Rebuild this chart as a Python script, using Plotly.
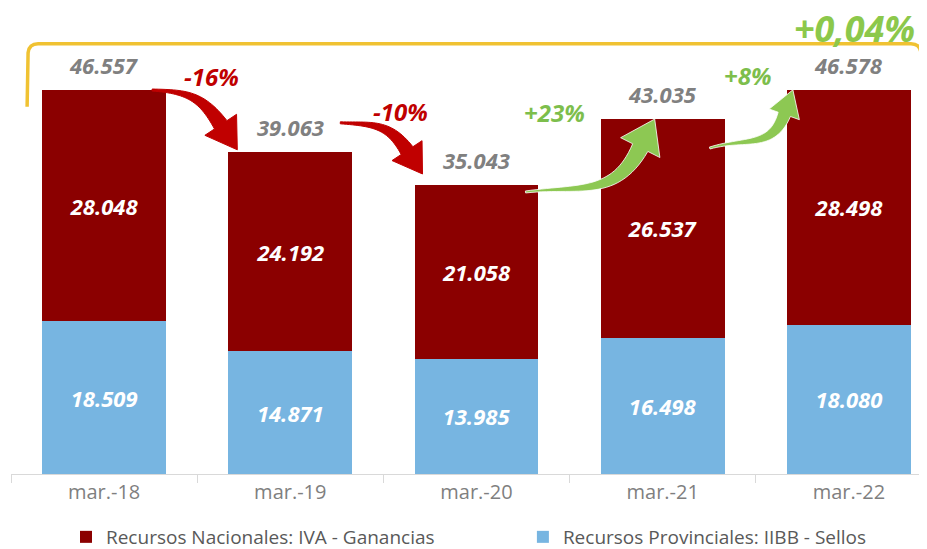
import math
import plotly.graph_objects as go

# ---------------------------------------------------------
# data
# ---------------------------------------------------------
periods = ["mar.-18", "mar.-19", "mar.-20", "mar.-21", "mar.-22"]
nacionales = [28048, 24192, 21058, 26537, 28498]
provinciales = [18509, 14871, 13985, 16498, 18080]
totals = [46557, 39063, 35043, 43035, 46578]
variations = ["-16%", "-10%", "+23%", "+8%"]
total_variation = "+0,04%"

# ---------------------------------------------------------
# geometry helpers (data <-> pixel)
# ---------------------------------------------------------
W, H = 927, 549
ML, MR, MT, MB = 3, 0, 0, 83
PW, PH = W - ML - MR, H - MT - MB
SX = 186.2                 # px per category
SY = 384 / 46557           # px per unit
X0, X1 = -0.5, -0.5 + PW / SX
YMAX = PH / SY

RED = "#8B0000"
BLUE = "#77B5E1"
ARROW_RED = "#C00000"
GREEN = "#8DC853"
GREY = "#808080"


def to_px(xd, yd):
    return ((xd - X0) * SX, (YMAX - yd) * SY)


def to_data(px, py):
    return (px / SX + X0, YMAX - py / SY)


def anchor(i, dx, dy):
    # pixel offset from the top-centre of bar i
    px, py = to_px(i, totals[i])
    return (px + dx, py + dy)


def unit(v):
    n = math.hypot(v[0], v[1])
    return (v[0] / n, v[1] / n)


def curved_arrow(tail, tip, d0, d1, hl, hw, w0, w1):
    d0, d1 = unit(d0), unit(d1)
    bx, by = tip[0] - hl * d1[0], tip[1] - hl * d1[1]
    L = math.hypot(bx - tail[0], by - tail[1])
    c1 = (tail[0] + 0.45 * L * d0[0], tail[1] + 0.45 * L * d0[1])
    c2 = (bx - 0.45 * L * d1[0], by - 0.45 * L * d1[1])
    p = [tail, c1, c2, (bx, by)]
    left, right = [], []
    n = 30
    for k in range(n + 1):
        t = k / n
        mt = 1 - t
        x = mt**3 * p[0][0] + 3 * mt**2 * t * p[1][0] + 3 * mt * t**2 * p[2][0] + t**3 * p[3][0]
        y = mt**3 * p[0][1] + 3 * mt**2 * t * p[1][1] + 3 * mt * t**2 * p[2][1] + t**3 * p[3][1]
        tx = 3 * mt**2 * (p[1][0] - p[0][0]) + 6 * mt * t * (p[2][0] - p[1][0]) + 3 * t**2 * (p[3][0] - p[2][0])
        ty = 3 * mt**2 * (p[1][1] - p[0][1]) + 6 * mt * t * (p[2][1] - p[1][1]) + 3 * t**2 * (p[3][1] - p[2][1])
        ux, uy = unit((tx, ty))
        nx, ny = -uy, ux
        w = (w0 + (w1 - w0) * t ** 1.3) / 2
        left.append((x + nx * w, y + ny * w))
        right.append((x - nx * w, y - ny * w))
    nx, ny = -d1[1], d1[0]
    head = [(bx + nx * hw, by + ny * hw), tip, (bx - nx * hw, by - ny * hw)]
    pts = left + head + right[::-1]
    pts = [to_data(*q) for q in pts]
    return "M " + " L ".join(f"{x:.4f},{y:.2f}" for x, y in pts) + " Z"


def pt(px, py):
    return "{:.4f},{:.2f}".format(*to_data(px, py))


# ---------------------------------------------------------
# traces
# ---------------------------------------------------------
xs = list(range(len(periods)))
label_font = dict(family="Open Sans", size=22, color="white", weight="bold", style="italic")

fig = go.Figure()
fig.add_trace(go.Bar(
    x=xs, y=provinciales, name="Recursos Provinciales: IIBB - Sellos",
    marker=dict(color=BLUE, line=dict(width=0)),
    texttemplate="%{y:,.0f}", textposition="inside", insidetextanchor="middle",
    textfont=label_font, legend="legend2", hoverinfo="y",
))
fig.add_trace(go.Bar(
    x=xs, y=nacionales, name="Recursos Nacionales: IVA - Ganancias",
    marker=dict(color=RED, line=dict(width=0)),
    texttemplate="%{y:,.0f}", textposition="inside", insidetextanchor="middle",
    textfont=label_font, legend="legend", hoverinfo="y",
))

annotations = []
for i, t in enumerate(totals):
    annotations.append(dict(
        x=i, y=t, text=f"{t:,}".replace(",", "."), showarrow=False,
        yanchor="bottom", yshift=8,
        font=dict(family="Open Sans", size=22, color=GREY, weight="bold", style="italic"),
    ))

# ---------------------------------------------------------
# arrows + percentage labels
# ---------------------------------------------------------
arrow_specs = [
    # tail offset, tip offset, start dir, end dir, head len, head half-width, w0, w1, colour
    ((48, 0), (-53, -2), (1, 0.05), (0.55, 0.83), 30, 19, 2, 15, ARROW_RED),
    ((50, -29), (-54, -11), (1, 0.05), (0.55, 0.83), 28, 18, 2, 14, ARROW_RED),
    ((49, 7), (-8, 0), (1, -0.12), (0.45, -0.89), 32, 22, 2, 17, GREEN),
    ((47, 29), (-56, 0), (1, -0.3), (0.33, -0.94), 26, 16, 2, 13, GREEN),
]
# label centre, pixel offset from arrow tail (red) / tip (green)
label_off = [(59, -14), (60, -11), (-100, -7), (-45, -14)]
shapes = []
for k, (ta, ti, d0, d1, hl, hw, w0, w1, col) in enumerate(arrow_specs):
    tail = anchor(k, *ta)
    tip = anchor(k + 1, *ti)
    shapes.append(dict(
        type="path", xref="x", yref="y",
        path=curved_arrow(tail, tip, d0, d1, hl, hw, w0, w1),
        fillcolor=col, line=dict(color="rgba(255,255,255,0.8)" if col == GREEN else col, width=1),
        layer="above",
    ))
    ref = tail if col == ARROW_RED else tip
    lx, ly = to_data(ref[0] + label_off[k][0], ref[1] + label_off[k][1])
    annotations.append(dict(
        x=lx, y=ly, text=variations[k], showarrow=False,
        font=dict(family="Open Sans", size=24, color=col if col == ARROW_RED else "#7DBE4C",
                  weight="bold", style="italic"),
    ))

# bracket over all periods
top = max(totals) * 1.12
bl = to_px(0, top)
br = to_px(len(totals) - 1, top)
lx_, rx_ = bl[0] - 77, br[0] + 73
ty, by_ = bl[1], bl[1] + 63
r = 9
path = (f"M {pt(lx_, by_)} L {pt(lx_ + 1, ty + r)} Q {pt(lx_ + 2, ty)} {pt(lx_ + r + 2, ty)} "
        f"L {pt(rx_ - r - 2, ty)} Q {pt(rx_ - 2, ty)} {pt(rx_ - 1, ty + r)} L {pt(rx_, by_)}")
shapes.insert(0, dict(type="path", xref="x", yref="y", path=path,
                      line=dict(color="#F0C232", width=3.5), layer="above"))

annotations.append(dict(
    x=len(totals) - 1, y=top, xshift=6, yshift=15, text=total_variation, showarrow=False,
    font=dict(family="Open Sans", size=36, color="#8CC84B", weight="bold", style="italic"),
))

# ---------------------------------------------------------
# layout
# ---------------------------------------------------------
leg_font = dict(family="Open Sans", size=19, color="#595959")
leg_y = -(529 - PH) / PH
fig.update_layout(
    width=W, height=H,
    margin=dict(l=ML, r=MR, t=MT, b=MB, autoexpand=False),
    barmode="stack", bargap=0.335,
    separators=",.",
    plot_bgcolor="white", paper_bgcolor="white",
    font=dict(family="Open Sans", color="#595959"),
    shapes=shapes, annotations=annotations,
    showlegend=True,
    legend=dict(orientation="h", x=0.0595, xanchor="left", y=leg_y, yanchor="middle",
                font=leg_font, bgcolor="rgba(0,0,0,0)"),
    legend2=dict(orientation="h", x=0.554, xanchor="left", y=leg_y, yanchor="middle",
                 font=leg_font, bgcolor="rgba(0,0,0,0)"),
    xaxis=dict(
        range=[X0, X1], tickvals=xs, ticktext=periods, ticks="",
        showline=True, linecolor="#D9D9D9", linewidth=1,
        showgrid=False, zeroline=False, automargin=False,
        tickfont=dict(family="Open Sans", size=20, color="#7F7F7F"),
        minor=dict(ticks="outside", tick0=-0.5, dtick=1, ticklen=8,
                   tickcolor="#D9D9D9", showgrid=False),
    ),
    yaxis=dict(range=[0, YMAX], visible=False),
)

fig.write_html("out.html")
